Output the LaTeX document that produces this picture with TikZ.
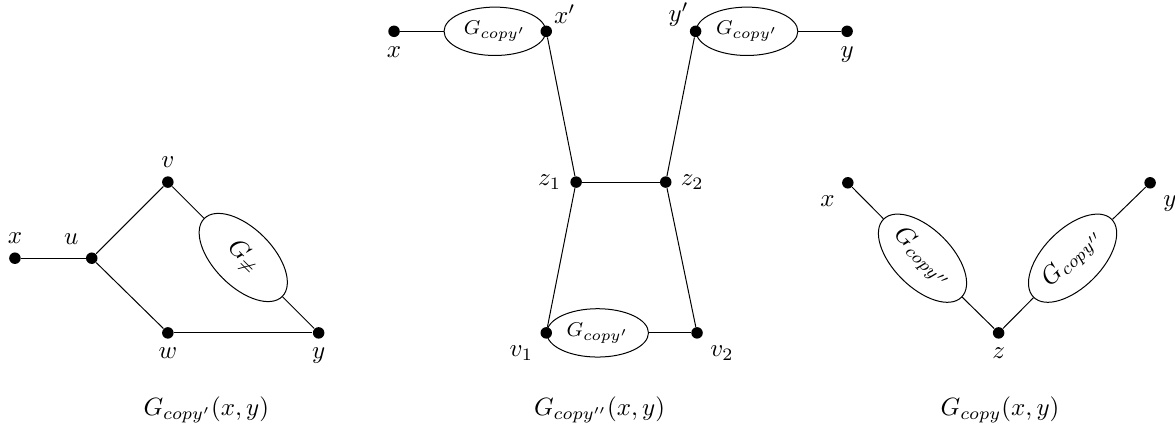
\documentclass[tikz,border=0pt]{standalone}
\usepackage{amsmath,amssymb}
\usetikzlibrary{shapes.geometric,positioning}

\begin{document}
\begin{tikzpicture}[
  vtx/.style={circle, fill=black, inner sep=0pt, minimum size=4.6pt},
  blob/.style={draw, ellipse, inner sep=0pt},
  flat/.style={blob, minimum width=1.43cm, minimum height=0.68cm, font=\footnotesize},
  tilt/.style={blob, minimum width=1.55cm, minimum height=0.82cm},
  ed/.style={draw=black}]
  \useasboundingbox (0,0) rectangle (16.52,-6.02);
  % left
  \node[vtx, label=above:$x$] (lx) at (0.21,-3.63) {};
  \node[vtx, label=above left:$u$] (lu) at (1.29,-3.63) {};
  \node[vtx, label=above:$v$] (lv) at (2.36,-2.56) {};
  \node[vtx, label=below:$w$] (lw) at (2.36,-4.68) {};
  \node[vtx, label=below:$y$] (ly) at (4.48,-4.68) {};
  \node[tilt, rotate=-45] (lg) at (3.42,-3.62) {$G_{\neq}$};
  \node (lt) at (2.90,-5.76) {$G_{copy'}(x,y)$};
  \foreach \a/\b in {lx/lu, lu/lv, lu/lw, lw/ly, lv/lg, lg/ly} \draw[ed] (\a) -- (\b);
  % middle
  \node[vtx, label=below:$x$] (mx) at (5.54,-0.44) {};
  \node[vtx, label={[label distance=-3pt]38:$x'$}] (mxp) at (7.68,-0.44) {};
  \node[vtx, label={[inner sep=0.5pt, label distance=0pt]145:$y'$}] (myp) at (9.78,-0.44) {};
  \node[vtx, label=below:$y$] (my) at (11.91,-0.44) {};
  \node[vtx, label=left:$z_1$] (mz1) at (8.10,-2.56) {};
  \node[vtx, label=right:$z_2$] (mz2) at (9.36,-2.56) {};
  \node[vtx, label=below left:$v_1$] (mv1) at (7.68,-4.68) {};
  \node[vtx, label=below right:$v_2$] (mv2) at (9.80,-4.68) {};
  \node[flat, anchor=east] (mga) at (mxp.center) {$G_{copy'}$};
  \node[flat, anchor=west] (mgb) at (myp.center) {$G_{copy'}$};
  \node[flat, anchor=west] (mgc) at (mv1.center) {$G_{copy'}$};
  \node (mt) at (8.43,-5.76) {$G_{copy''}(x,y)$};
  \foreach \a/\b in {mx/mga, mxp/mz1, myp/mz2, mgb/my, mz1/mz2, mz1/mv1, mz2/mv2, mgc/mv2} \draw[ed] (\a) -- (\b);
  % right
  \node[vtx, label=below left:$x$] (rx) at (11.92,-2.57) {};
  \node[vtx, label=below right:$y$] (ry) at (16.17,-2.57) {};
  \node[vtx, label=below:$z$] (rz) at (14.04,-4.68) {};
  \node[tilt, rotate=-45] (rga) at (12.97,-3.63) {$G_{copy''}$};
  \node[tilt, rotate=45] (rgb) at (15.08,-3.63) {$G_{copy''}$};
  \node (rt) at (14.06,-5.76) {$G_{copy}(x,y)$};
  \foreach \a/\b in {rx/rga, rga/rz, rz/rgb, rgb/ry} \draw[ed] (\a) -- (\b);
\end{tikzpicture}
\end{document}
